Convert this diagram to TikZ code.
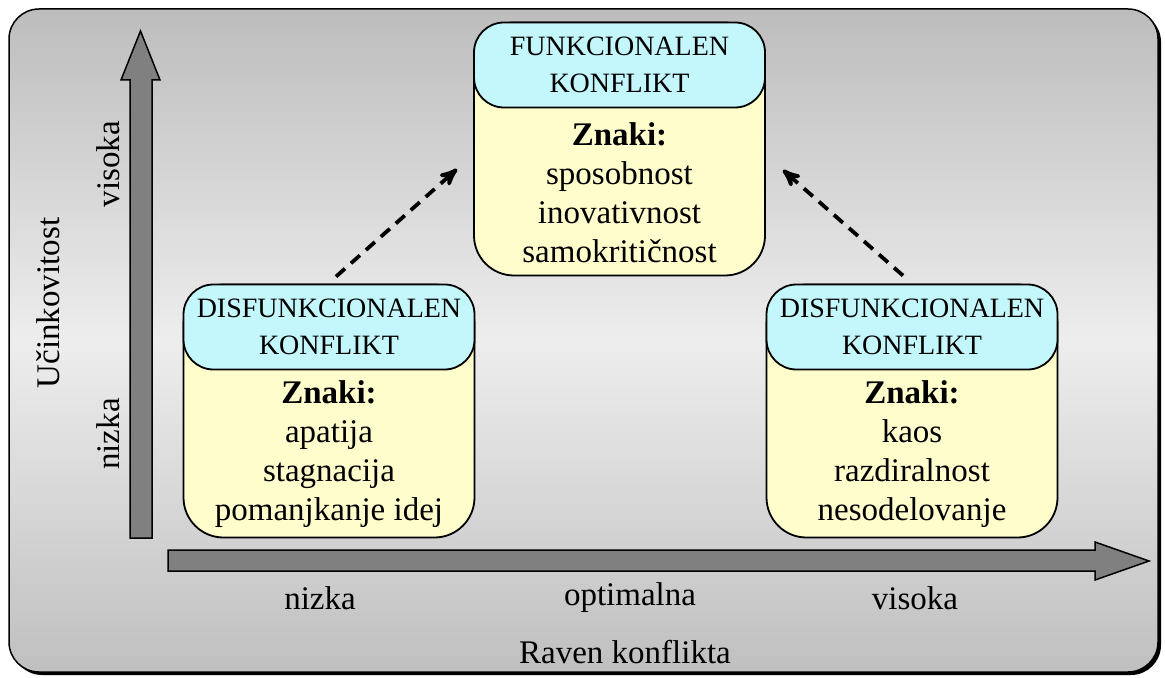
\documentclass[tikz,border=0pt]{standalone}
\usepackage{fontspec}
\setmainfont{Liberation Serif}
\usepackage{tikz}
\usetikzlibrary{arrows}
\usetikzlibrary{calc}
\usetikzlibrary{positioning}

\definecolor{headcyan}{HTML}{C4F7FC}
\definecolor{bodyyellow}{HTML}{FFFDCC}
\definecolor{axisgray}{HTML}{808080}

\begin{document}
\begin{tikzpicture}[x=0.5pt, y=-0.5pt,
  panel/.style={draw=black, line width=0.75pt, rounded corners=15pt, top color=black!26, bottom color=black!25, middle color=black!7},
  axis/.style={draw=black, line width=0.75pt, fill=axisgray},
  box/.style={rectangle, draw, line width=0.9pt, rounded corners=20pt, fill=bodyyellow, minimum width=145.5pt, minimum height=126.5pt, inner sep=0pt},
  head/.style={rectangle, draw, line width=0.9pt, rounded corners=15pt, fill=headcyan, minimum width=145.5pt, minimum height=42.5pt, anchor=north, align=center, inner sep=0pt, font=\fontsize{14}{18.5}\selectfont},
  signs/.style={align=center, inner sep=0pt, font=\fontsize{16.5}{19.5}\selectfont},
  label/.style={inner sep=0pt, font=\fontsize{16.5}{19.5}\selectfont},
  dasharrow/.style={line width=1.9pt, dash pattern=on 6pt off 4pt, ->, >=stealth'}]
\useasboundingbox (0,0) rectangle (1165,678);
\fill [black, rounded corners=15pt] (12,12) rectangle (1161,675);
\path [panel] (9,9) rectangle (1158,672);
\path [axis] (130,538) -- (130,80) -- (121,80) -- (140.5,31) -- (160,80) -- (152,80) -- (152,538) -- cycle;
\path [axis] (168,550) -- (1095,550) -- (1095,542) -- (1149,561) -- (1095,580) -- (1095,571) -- (168,571) -- cycle;
\node [box] (tbox) at (619.5,149) {};
\node [head] (thead) at (tbox.north) {FUNKCIONALEN\\KONFLIKT};
\node [signs] (ttext) at ($(thead.south)!0.5!(tbox.south)$) {\textbf{Znaki:}\\sposobnost\\inovativnost\\samokritičnost};
\node [box] (lbox) at (329,411) {};
\node [head] (lhead) at (lbox.north) {DISFUNKCIONALEN\\KONFLIKT};
\node [signs] (ltext) at ($(lhead.south)!0.5!(lbox.south)$) {\textbf{Znaki:}\\apatija\\stagnacija\\pomanjkanje idej};
\node [box] (rbox) at (912,411) {};
\node [head] (rhead) at (rbox.north) {DISFUNKCIONALEN\\KONFLIKT};
\node [signs] (rtext) at ($(rhead.south)!0.5!(rbox.south)$) {\textbf{Znaki:}\\kaos\\razdiralnost\\nesodelovanje};
\draw [dasharrow] ([xshift=3.5pt, yshift=3.5pt]lhead.north) -- ([xshift=-8pt, yshift=-10pt]tbox.west);
\draw [dasharrow] ([xshift=-4.5pt, yshift=4pt]rhead.north) -- ([xshift=8.5pt, yshift=-10.5pt]tbox.east);
\node [label, rotate=90] (yname) at (48,303) {Učinkovitost};
\node [label, rotate=90] (yhigh) at (108,164) {visoka};
\node [label, rotate=90] (ylow) at (108,434) {nizka};
\node [label] (xlow) at (320,598) {nizka};
\node [label] (xopt) at (630,598) {optimalna};
\node [label] (xhigh) at (915,598) {visoka};
\node [label] (xname) at (625,652) {Raven konflikta};
\end{tikzpicture}
\end{document}
